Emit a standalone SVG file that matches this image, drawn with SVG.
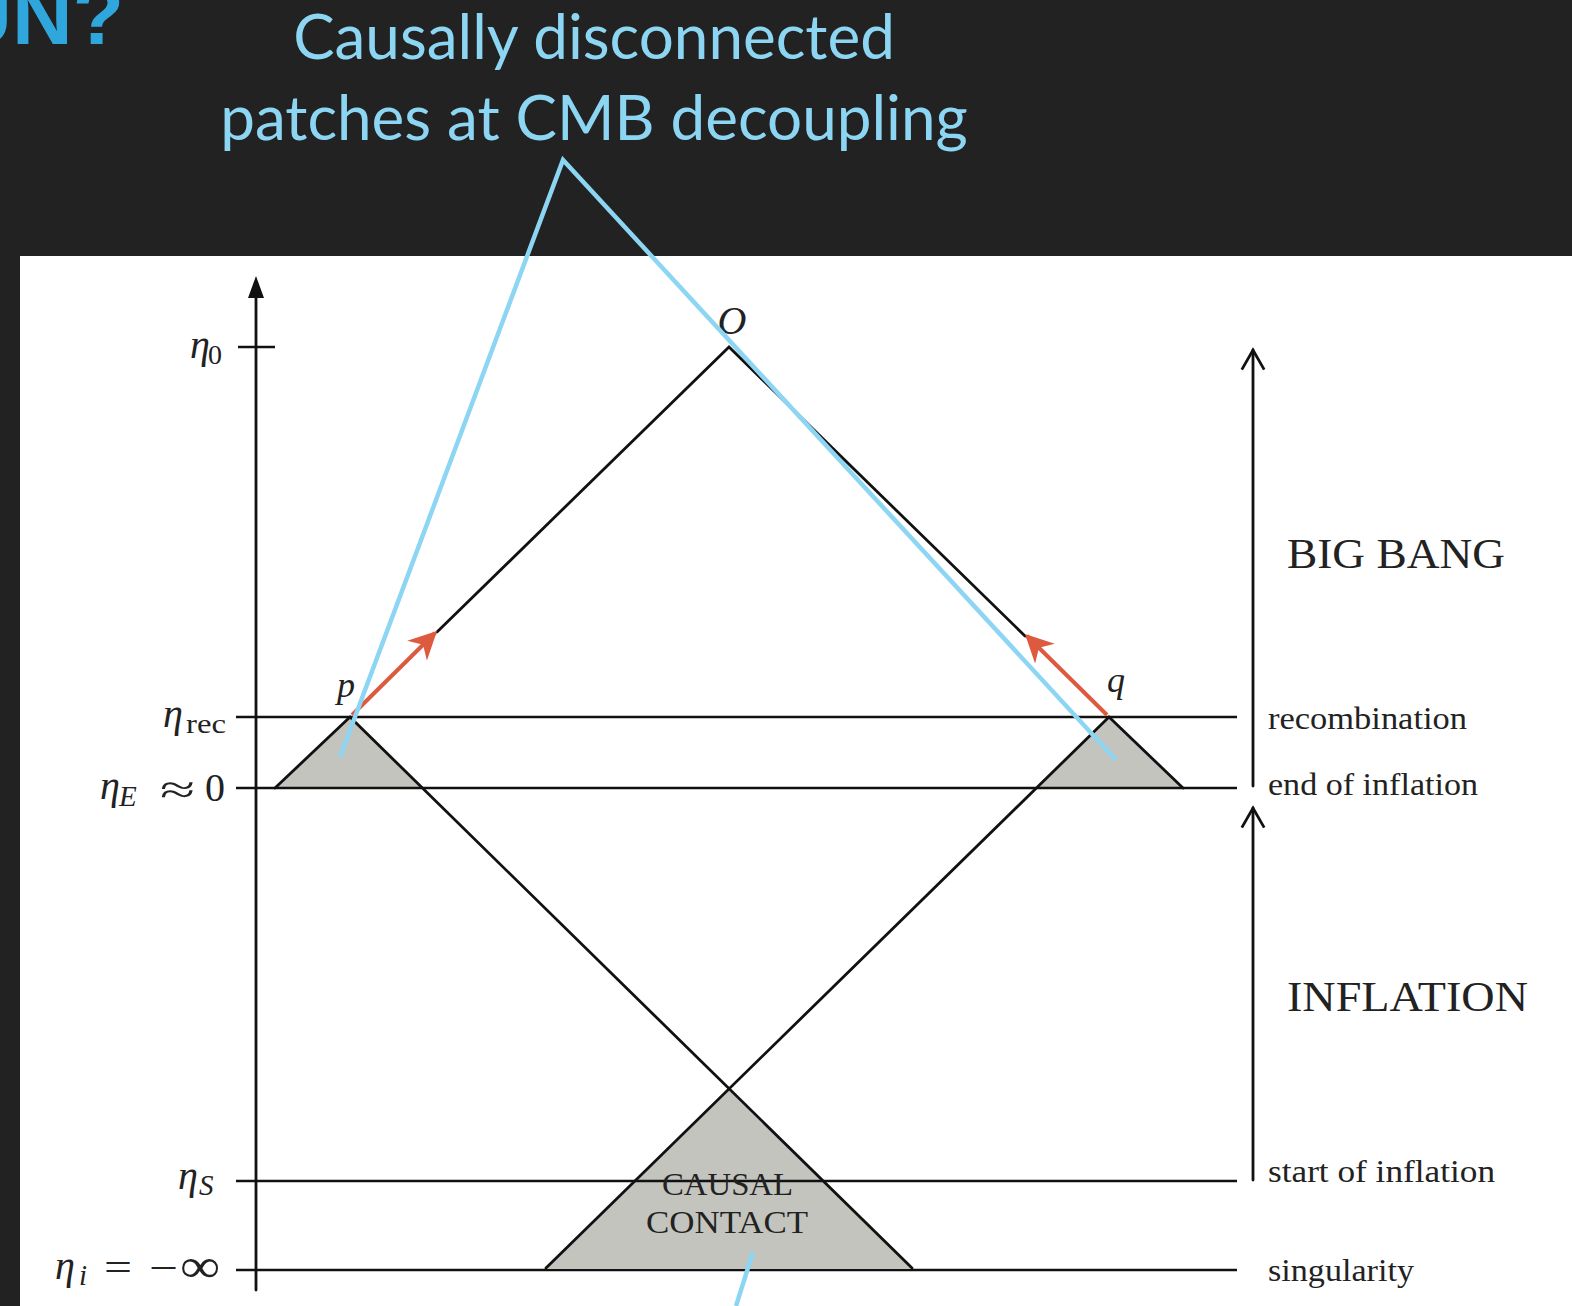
<svg xmlns="http://www.w3.org/2000/svg" width="1572" height="1306" viewBox="0 0 1572 1306">
<style>
.bg{fill:#222222}
.ln{stroke:#111;stroke-width:2.8;fill:none;stroke-linecap:round}
.hl{stroke:#111;stroke-width:2.3;fill:none}
.sh{fill:#c3c4be;stroke:none}
.red{stroke:#de5a3f;stroke-width:4;fill:none}
.blue{stroke:#8dd6f3;stroke-width:4.5;fill:none;stroke-linecap:butt}
.t{font-family:"Liberation Serif","DejaVu Serif",serif;fill:#222}
.m{font-family:"Liberation Serif","DejaVu Serif",serif;font-style:italic;fill:#222}
.r{font-family:"Liberation Serif","DejaVu Serif",serif;fill:#222}
.title{font-family:Lato,"Open Sans","Noto Sans",sans-serif;fill:#8dd6f3;font-size:62px}
</style>
<defs>
<marker id="redhead" viewBox="0 0 10 10" refX="9" refY="5" markerWidth="7" markerHeight="7" orient="auto" markerUnits="strokeWidth">
<path d="M0,0 L10,5 L0,10 L3,5 z" fill="#de5a3f"/>
</marker>
<marker id="open" viewBox="0 0 20 20" refX="18" refY="10" markerWidth="10" markerHeight="10" orient="auto" markerUnits="strokeWidth">
<path d="M4,2 L18,10 L4,18" fill="none" stroke="#111" stroke-width="2"/>
</marker>
</defs>
<rect class="bg" x="0" y="0" width="1572" height="1306"/>
<rect x="20" y="256" width="1552" height="1050" fill="#ffffff"/>
<text x="124" y="44" text-anchor="end" font-family="'Liberation Sans Narrow','Liberation Sans',sans-serif" font-weight="bold" font-size="84" fill="#2fa6dc">UN?</text>
<g id="title">
<text class="title" x="594" y="59" text-anchor="middle">Causally disconnected</text>
<text class="title" x="594" y="140" text-anchor="middle">patches at CMB decoupling</text>
</g>
<g id="shading">
<polygon id="patch-p" class="sh" points="350,717 275,788 421,788"/>
<polygon id="patch-q" class="sh" points="1109,717 1038,788 1183,788"/>
<polygon id="causal-contact" class="sh" points="729,1090 546,1268 912,1268"/>
</g>
<g id="axis">
<line class="ln" x1="256" y1="1290" x2="256" y2="292"/>
<polygon points="256,276 248,298 264,298" fill="#111"/>
<line class="hl" x1="238" y1="347" x2="275" y2="347"/>
</g>
<g id="time-lines">
<line class="hl" x1="236" y1="717" x2="1237" y2="717"/>
<line class="hl" x1="236" y1="788" x2="1237" y2="788"/>
<line class="hl" x1="236" y1="1181" x2="1237" y2="1181"/>
<line class="hl" x1="236" y1="1270" x2="1237" y2="1270"/>
</g>
<g id="connectors">
<polyline class="ln" points="437,632 729,347 1025,636"/>
<line class="ln" x1="350" y1="717" x2="275" y2="788"/>
<line class="ln" x1="350" y1="717" x2="912" y2="1268"/>
<line class="ln" x1="1109" y1="717" x2="1183" y2="788"/>
<line class="ln" x1="1109" y1="717" x2="546" y2="1268"/>
<line class="red" x1="352" y1="715" x2="435" y2="633" marker-end="url(#redhead)"/>
<line class="red" x1="1107" y1="715" x2="1027" y2="636" marker-end="url(#redhead)"/>
<line class="ln" x1="1253" y1="1180" x2="1253" y2="808" marker-end="url(#open)"/>
<line class="ln" x1="1253" y1="786" x2="1253" y2="350" marker-end="url(#open)"/>
</g>
<g id="left-labels">
<text class="m" x="190" y="358" font-size="40">η</text><text class="r" x="208" y="364" font-size="28">0</text>
<text class="m" x="163" y="727" font-size="40">η</text><text class="r" x="186" y="733" font-size="28" textLength="40" lengthAdjust="spacingAndGlyphs">rec</text>
<text class="m" x="100" y="799" font-size="40">η</text><text class="m" x="119" y="806" font-size="29">E</text><text class="r" x="160" y="803" font-size="40" textLength="35" lengthAdjust="spacingAndGlyphs">≈</text><text class="r" x="205" y="801" font-size="40">0</text>
<text class="m" x="178" y="1189" font-size="40">η</text><text class="m" x="199" y="1195" font-size="29">S</text>
<text class="m" x="55" y="1279" font-size="40">η</text><text class="m" x="79" y="1285" font-size="29">i</text><text class="r" x="104" y="1281" font-size="40" textLength="28" lengthAdjust="spacingAndGlyphs">=</text><text class="r" x="149" y="1281" font-size="40" textLength="29" lengthAdjust="spacingAndGlyphs">−</text><text class="r" x="180" y="1282" font-size="48" textLength="40" lengthAdjust="spacingAndGlyphs">∞</text>
</g>
<g id="point-labels">
<text class="m" x="346" y="697" text-anchor="middle" font-size="36">p</text>
<text class="m" x="1116" y="692" text-anchor="middle" font-size="36">q</text>
<text class="m" x="732" y="334" text-anchor="middle" font-size="40">O</text>
</g>
<g id="causal-label">
<text class="t" x="662" y="1195" font-size="32" textLength="131" lengthAdjust="spacingAndGlyphs">CAUSAL</text>
<text class="t" x="646" y="1233" font-size="32" textLength="162" lengthAdjust="spacingAndGlyphs">CONTACT</text>
</g>
<g id="right-labels">
<text class="t" x="1287" y="568" font-size="42" textLength="218" lengthAdjust="spacingAndGlyphs">BIG BANG</text>
<text class="t" x="1287" y="1011" font-size="42" textLength="241" lengthAdjust="spacingAndGlyphs">INFLATION</text>
<text class="t" x="1268" y="729" font-size="31" textLength="199" lengthAdjust="spacingAndGlyphs">recombination</text>
<text class="t" x="1268" y="795" font-size="31" textLength="210" lengthAdjust="spacingAndGlyphs">end of inflation</text>
<text class="t" x="1268" y="1182" font-size="31" textLength="227" lengthAdjust="spacingAndGlyphs">start of inflation</text>
<text class="t" x="1268" y="1281" font-size="31" textLength="146" lengthAdjust="spacingAndGlyphs">singularity</text>
</g>
<g id="callout">
<polyline class="blue" points="340,757 563,160 1116,760"/>
<line class="blue" x1="753" y1="1252" x2="736" y2="1306"/>
</g>
</svg>
